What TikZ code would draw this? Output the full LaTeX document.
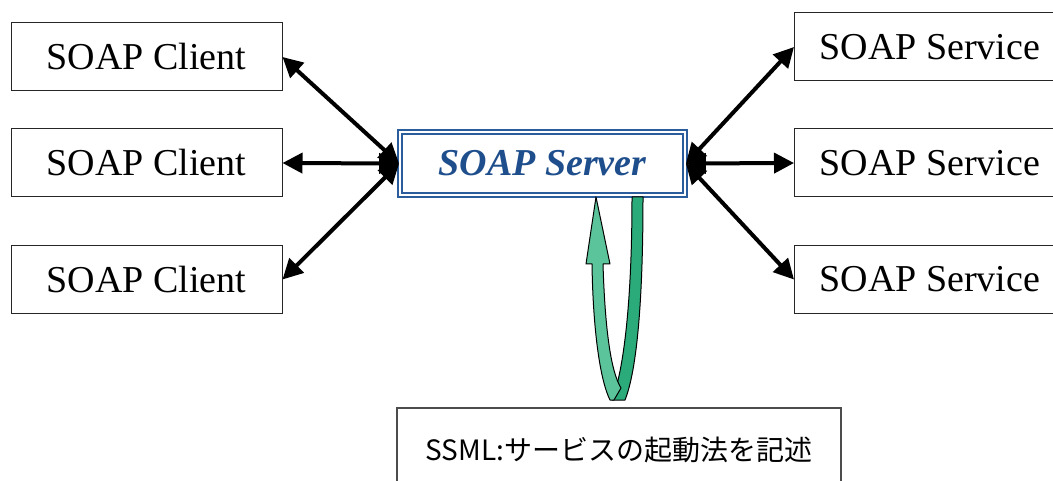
\documentclass[tikz,border=0pt]{standalone}
\usepackage{fontspec}
\setmainfont{Liberation Serif}
\newfontfamily\jpfont{Noto Sans CJK JP}
\usepackage{tikz}
\usetikzlibrary{positioning,arrows.meta}
\definecolor{srvblue}{HTML}{2B5C9C}
\definecolor{srvtext}{HTML}{1F4E8C}
\definecolor{ribbonlight}{HTML}{5CC49A}
\definecolor{ribbondark}{HTML}{2BAA7A}
\tikzset{
  box/.style={draw=black!85, line width=1pt, minimum width=271pt, minimum height=68pt, inner sep=0pt, font=\fontsize{38}{40}\selectfont},
  serverbox/.style={draw=srvblue, double, double distance=2pt, line width=1.8pt, minimum width=285pt, minimum height=63pt, inner sep=0pt, text=srvtext, font=\fontsize{38}{40}\selectfont\bfseries\itshape},
  notebox/.style={draw=black!70, line width=1.5pt, minimum width=444pt, minimum height=84pt, inner sep=0pt, font=\jpfont\fontsize{28}{30}\selectfont},
  link/.style={line width=4pt, {Triangle[length=20pt,width=20pt]}-{Triangle[length=20pt,width=20pt]}},
  ribbon/.style={draw=black, line width=1pt, line join=round}
}
\begin{document}
\begin{tikzpicture}[x=1pt,y=-1pt]
\useasboundingbox (0,0) rectangle (1053,481);
\clip (0,0) rectangle (1053,481);

% Server in the middle
\node[serverbox] (server) at (542.5,163.5) {SOAP Server};

% Clients
\node[box] (client1) at (146.5,57) {SOAP Client};
\node[box] (client2) at (146.5,163) {SOAP Client};
\node[box] (client3) at (146.5,279.5) {SOAP Client};

% Services
\node[box, anchor=west] (service1) at (794,47) {SOAP Service};
\node[box, anchor=west] (service2) at (794,163) {SOAP Service};
\node[box, anchor=west] (service3) at (794,279.5) {SOAP Service};

% SSML description
\node[notebox] (ssml) at (619,450) {SSML:サービスの起動法を記述};

% Links
\draw[link] (server.west) -- (client1.east);
\draw[link] (server.west) -- (client2.east);
\draw[link] (server.west) -- (client3.east);
\draw[link] (server.east) -- (service1.west);
\draw[link] (server.east) -- (service2.west);
\draw[link] (server.east) -- (service3.west);

% Ribbon arrow under the server
\draw[ribbon, fill=ribbondark] (632,197) -- (643,197)
  .. controls (643,300) and (637,370) .. (625,400) -- (612,400)
  .. controls (624,370) and (632,300) .. (632,197) -- cycle;
\draw[ribbon, fill=ribbonlight] (596,197) -- (610,264) -- (603,264)
  .. controls (605,330) and (611,372) .. (621,388) -- (614,400) -- (610,400)
  .. controls (600,380) and (593,330) .. (592,264) -- (586,264) -- cycle;
\end{tikzpicture}
\end{document}
